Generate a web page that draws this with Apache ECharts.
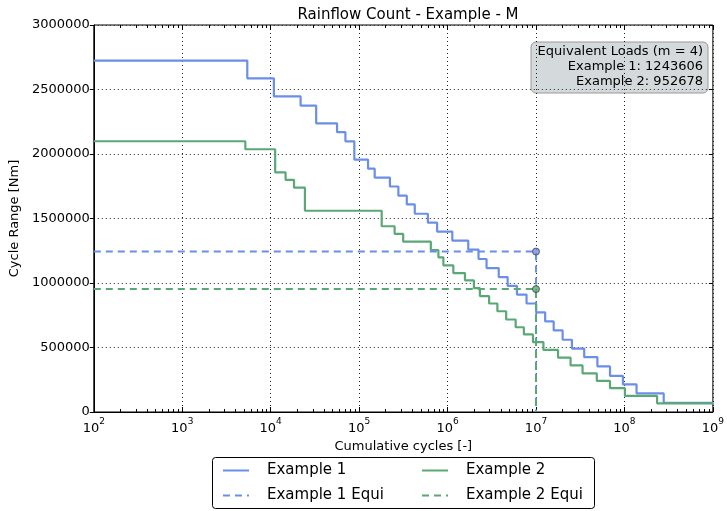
<!DOCTYPE html>
<html>
<head>
<meta charset="utf-8">
<script src="https://cdn.jsdelivr.net/npm/echarts@6/dist/echarts.min.js"></script>
<style>
html,body{margin:0;padding:0;background:#fff;}
#chart{width:727px;height:511px;}
</style>
</head>
<body>
<div id="chart"></div>
<script>
// ---- Data ----
const chartTitle = 'Rainflow Count - Example - M';
const xAxisName = 'Cumulative cycles [-]';
const yAxisName = 'Cycle Range [Nm]';
const seriesNames = ['Example 1', 'Example 2', 'Example 1 Equi', 'Example 2 Equi'];
const yTicks = [0, 500000, 1000000, 1500000, 2000000, 2500000, 3000000];
const xDecades = [2, 3, 4, 5, 6, 7, 8, 9];
const xMin = 1e2;
const xMax = 1e9;

// Example 1: cycle range levels and the cumulative cycle counts where each level ends
const ex1Ranges = [2724000, 2587000, 2447000, 2375000, 2238000, 2169000, 2098000, 1957000, 1886000, 1817000,
  1748000, 1677000, 1609000, 1537000, 1468000, 1399000, 1329000, 1259000, 1186000, 1116000,
  1046000, 978000, 910000, 841000, 772000, 702000, 632000, 560000, 492000, 425000,
  353000, 280000, 214000, 144000, 71000];
const ex1Cycles = [5440, 10870, 21800, 32700, 56300, 70000, 88300, 126200, 150000, 223000,
  278000, 346000, 426000, 599000, 762000, 1132000, 1714000, 2240000, 2760000, 3790000,
  4780000, 6090000, 7820000, 10050000, 12700000, 15850000, 20000000, 25500000, 35100000, 49500000,
  68700000, 96200000, 137100000, 278000000];

// Example 2
const ex2Ranges = [2099000, 2037000, 1857000, 1800000, 1739000, 1560000, 1440000, 1381000, 1320000, 1256000,
  1199000, 1137000, 1077000, 1021000, 961000, 899000, 841000, 781000, 717000, 657000,
  601000, 541000, 481000, 421000, 361000, 299000, 241000, 185000, 125000, 67000];
const ex2Cycles = [5170, 11240, 14750, 18370, 24400, 180000, 252000, 315000, 647000, 788000,
  897000, 1162000, 1573000, 1986000, 2320000, 2950000, 3660000, 4600000, 5890000, 7290000,
  9250000, 12140000, 17750000, 24600000, 33600000, 48700000, 68700000, 101300000, 234000000];

// Equivalent loads (m = 4) at 1e7 cycles
const equiM = 4;
const equiCycles = 1e7;
const ex1Equi = 1243606;
const ex2Equi = 952678;

// ---- Build chart ----
const FONT = 'DejaVu Sans';
const C1 = '#6b8fe8';
const C2 = '#5aa876';

function stepData(ranges, cycles) {
  const d = [[xMin, ranges[0]]];
  for (let i = 0; i < cycles.length; i++) d.push([cycles[i], ranges[i + 1]]);
  d.push([xMax, ranges[ranges.length - 1]]);
  return d;
}
function equiData(v) {
  return [[xMin, v], [equiCycles, v], [equiCycles, 0]];
}
const minorVals = [];
for (let d = xDecades[0]; d < xDecades[xDecades.length - 1]; d++) {
  for (let k = 2; k <= 9; k++) minorVals.push(d + Math.log10(k));
}

const chart = echarts.init(document.getElementById('chart'), null, {renderer: 'canvas'});
const lbl = {fontFamily: FONT, fontSize: 13, color: '#000'};
const legendCommon = {
  orient: 'vertical', itemWidth: 26, itemHeight: 14, itemGap: 10, padding: 0, height: 45,
  itemStyle: {color: 'rgba(0,0,0,0)', borderColor: 'rgba(0,0,0,0)', borderWidth: 0, opacity: 0},
  textStyle: {fontFamily: FONT, fontSize: 15, color: '#000', padding: [0, 0, 0, 13]}
};

const option = {
  animation: false,
  backgroundColor: '#fff',
  title: {
    text: chartTitle, left: 403, top: 3, textAlign: 'center',
    textStyle: {fontFamily: FONT, fontSize: 15, fontWeight: 'normal', color: '#000'}
  },
  grid: {left: 91, right: 12, top: 25, bottom: 99, show: true, borderColor: '#000', borderWidth: 1, backgroundColor: 'transparent'},
  legend: [
    Object.assign({left: 222, top: 463, data: [seriesNames[0], seriesNames[2]]}, legendCommon),
    Object.assign({left: 421, top: 463, data: [seriesNames[1], seriesNames[3]]}, legendCommon)
  ],
  xAxis: [
    {
      type: 'log', logBase: 10, min: xMin, max: xMax, position: 'bottom',
      name: xAxisName, nameLocation: 'middle', nameGap: 19,
      nameTextStyle: lbl,
      axisLine: {show: true, lineStyle: {color: '#000', width: 1}},
      axisTick: {show: true, inside: true, length: 5, lineStyle: {color: '#000'}},
      axisLabel: {
        margin: 5,
        formatter: v => '{b|10}{s|' + Math.round(Math.log10(v)) + '}',
        rich: {
          b: {fontFamily: FONT, fontSize: 13, color: '#000', lineHeight: 18, verticalAlign: 'bottom'},
          s: {fontFamily: FONT, fontSize: 9, color: '#000', lineHeight: 18, verticalAlign: 'top'}
        }
      },
      splitLine: {show: true, lineStyle: {color: '#222', type: [1, 3], width: 1}},
      minorTick: {show: false}
    },
    {
      type: 'value', min: xDecades[0], max: xDecades[xDecades.length - 1], position: 'bottom',
      axisLine: {show: false}, axisLabel: {show: false}, splitLine: {show: false},
      axisTick: {show: true, inside: true, length: 3, customValues: minorVals, lineStyle: {color: '#000'}}
    },
    {
      type: 'value', min: xDecades[0], max: xDecades[xDecades.length - 1], position: 'top',
      axisLine: {show: false}, axisLabel: {show: false}, splitLine: {show: false},
      axisTick: {show: true, inside: true, length: 3, customValues: minorVals, lineStyle: {color: '#000'}}
    },
    {
      type: 'value', min: xDecades[0], max: xDecades[xDecades.length - 1], position: 'top',
      axisLine: {show: false}, axisLabel: {show: false}, splitLine: {show: false},
      axisTick: {show: true, inside: true, length: 5, customValues: xDecades, lineStyle: {color: '#000'}}
    }
  ],
  yAxis: [
    {
      type: 'value', min: yTicks[0], max: yTicks[yTicks.length - 1], interval: yTicks[1] - yTicks[0],
      name: yAxisName, nameLocation: 'middle', nameGap: 60, nameTextStyle: lbl,
      axisLine: {show: true, lineStyle: {color: '#000', width: 1}},
      axisTick: {show: true, inside: false, length: 4, lineStyle: {color: '#000'}},
      axisLabel: Object.assign({margin: 4, formatter: v => String(v)}, lbl),
      splitLine: {show: true, lineStyle: {color: '#222', type: [1, 3], width: 1}}
    },
    {
      type: 'value', min: yTicks[0], max: yTicks[yTicks.length - 1], interval: yTicks[1] - yTicks[0],
      position: 'right',
      axisLine: {show: false}, axisLabel: {show: false}, splitLine: {show: false},
      axisTick: {show: true, inside: true, length: 4, lineStyle: {color: '#000'}}
    }
  ],
  series: [
    {
      name: seriesNames[0], type: 'line', step: 'end', symbol: 'none', z: 3,
      data: stepData(ex1Ranges, ex1Cycles),
      lineStyle: {color: C1, width: 2.2}, itemStyle: {color: C1}
    },
    {
      name: seriesNames[1], type: 'line', step: 'end', symbol: 'none', z: 3,
      data: stepData(ex2Ranges, ex2Cycles),
      lineStyle: {color: C2, width: 2.2}, itemStyle: {color: C2}
    },
    {
      name: seriesNames[2], type: 'line', symbol: 'none', z: 4,
      data: equiData(ex1Equi),
      lineStyle: {color: C1, width: 2, type: [7, 5]}, itemStyle: {color: C1}
    },
    {
      name: seriesNames[3], type: 'line', symbol: 'none', z: 4,
      data: equiData(ex2Equi),
      lineStyle: {color: C2, width: 2, type: [7, 5]}, itemStyle: {color: C2}
    },
    {
      type: 'scatter', z: 5, symbol: 'circle', symbolSize: 7,
      data: [{value: [equiCycles, ex1Equi], itemStyle: {color: C1}}, {value: [equiCycles, ex2Equi], itemStyle: {color: C2}}],
      itemStyle: {borderColor: '#444', borderWidth: 1}
    }
  ],
  graphic: [
    {
      type: 'group', z: 100,
      children: [
        {
          type: 'rect', shape: {x: 531, y: 42, width: 177, height: 51, r: 5},
          style: {fill: 'rgba(160,170,176,0.45)', stroke: '#9a9a9a', lineWidth: 1}
        },
        {
          type: 'text',
          style: {
            text: 'Equivalent Loads (m = ' + equiM + ')\nExample 1: ' + ex1Equi + '\nExample 2: ' + ex2Equi,
            x: 703, y: 44, align: 'right', verticalAlign: 'top',
            font: '13px "DejaVu Sans"', lineHeight: 15, fill: '#000'
          }
        }
      ]
    },
    {
      type: 'rect', z: -1, shape: {x: 212.5, y: 457.5, width: 382, height: 51, r: 3},
      style: {fill: '#fff', stroke: '#000', lineWidth: 1}
    }
  ]
};
chart.setOption(option);
</script>
</body>
</html>
